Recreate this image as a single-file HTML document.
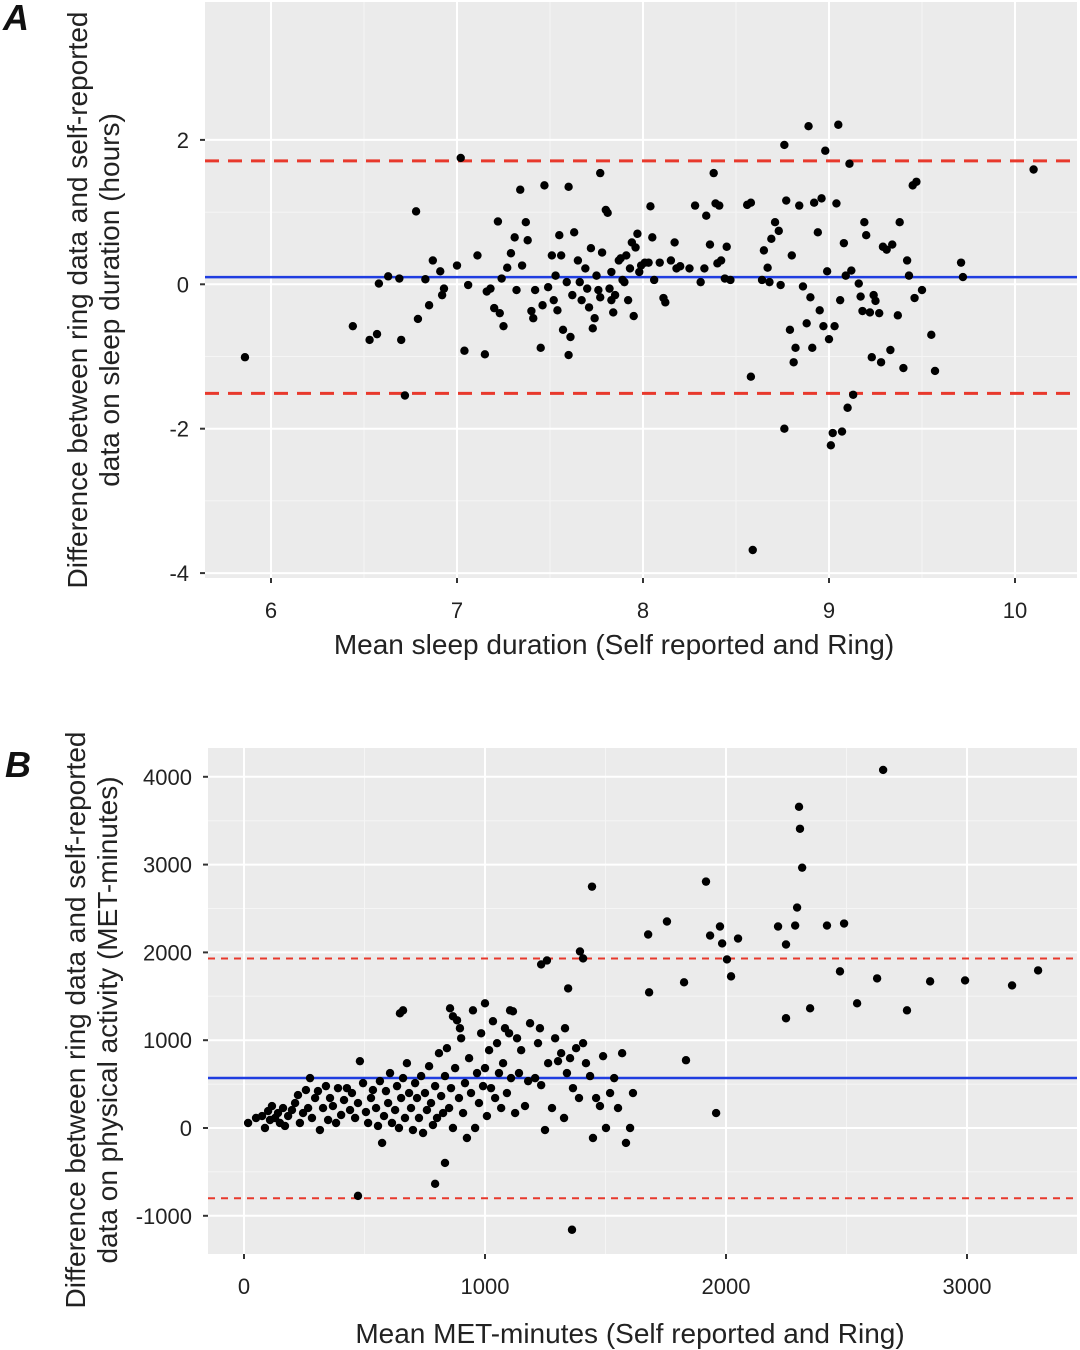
<!DOCTYPE html>
<html><head><meta charset="utf-8"><style>
html,body{margin:0;padding:0;background:#fff;}
svg{display:block;font-family:"Liberation Sans",Arial,sans-serif;}
</style></head><body>
<svg id="chart" width="1080" height="1350" viewBox="0 0 1080 1350"></svg>
<script>
// ---- Panel A data ----
const aX = [5.86,6.44,6.53,6.57,6.58,6.63,6.69,6.70,6.72,6.78,6.79,6.83,6.85,6.87,6.91,6.92,6.93,7.00,7.02,7.04,7.06,7.11,7.15,7.16,7.18,7.22,7.20,7.23,7.24,7.25,7.27,7.29,7.31,7.32,7.34,7.35,7.37,7.38,7.40,7.41,7.42,7.45,7.46,7.47,7.49,7.51,7.52,7.53,7.54,7.55,7.56,7.57,7.59,7.60,7.60,7.61,7.62,7.63,7.65,7.66,7.67,7.69,7.70,7.71,7.72,7.73,7.74,7.75,7.76,7.77,7.77,7.78,7.80,7.81,7.82,7.83,7.83,7.84,7.85,7.87,7.88,7.89,7.90,7.91,7.92,7.93,7.94,7.95,7.96,7.97,7.98,7.99,8.01,8.03,8.04,8.05,8.06,8.09,8.11,8.12,8.15,8.17,8.18,8.20,8.25,8.28,8.31,8.33,8.34,8.36,8.38,8.39,8.40,8.41,8.42,8.44,8.45,8.47,8.56,8.58,8.58,8.59,8.64,8.65,8.67,8.68,8.69,8.71,8.73,8.74,8.76,8.76,8.77,8.79,8.80,8.81,8.82,8.84,8.86,8.88,8.89,8.90,8.91,8.92,8.94,8.95,8.96,8.97,8.98,8.99,9.00,9.01,9.02,9.03,9.04,9.05,9.06,9.07,9.08,9.09,9.10,9.11,9.12,9.13,9.16,9.17,9.18,9.19,9.20,9.22,9.23,9.24,9.25,9.27,9.28,9.29,9.31,9.33,9.34,9.37,9.38,9.40,9.42,9.43,9.45,9.46,9.47,9.50,9.55,9.57,9.71,9.72,10.10];
const aY = [-1.01,-0.58,-0.77,-0.69,0.01,0.11,0.08,-0.77,-1.54,1.01,-0.48,0.07,-0.29,0.33,0.18,-0.15,-0.06,0.26,1.75,-0.92,-0.01,0.40,-0.97,-0.10,-0.06,0.87,-0.33,-0.40,0.08,-0.58,0.23,0.43,0.65,-0.08,1.31,0.26,0.86,0.61,-0.37,-0.47,-0.08,-0.88,-0.29,1.37,-0.04,0.40,-0.22,0.12,-0.36,0.68,0.40,-0.63,0.03,1.35,-0.98,-0.73,-0.15,0.72,0.33,0.03,-0.22,0.22,-0.06,-0.32,0.50,-0.61,-0.47,0.12,-0.08,-0.18,1.54,0.44,1.03,0.99,-0.06,0.17,-0.22,-0.39,-0.15,0.33,0.36,0.06,0.03,0.40,-0.22,0.22,0.58,-0.44,0.51,0.70,0.17,0.26,0.30,0.30,1.08,0.65,0.06,0.30,-0.19,-0.25,0.33,0.58,0.22,0.25,0.22,1.09,0.03,0.22,0.95,0.55,1.54,1.12,0.29,1.09,0.33,0.08,0.52,0.06,1.10,1.13,-1.28,-3.68,0.06,0.47,0.23,0.03,0.63,0.86,0.74,-0.01,1.93,-2.00,1.16,-0.63,0.40,-1.08,-0.88,1.09,-0.03,-0.54,2.19,-0.18,-0.88,1.13,0.72,-0.36,1.19,-0.58,1.85,0.18,-0.76,-2.23,-2.06,-0.58,1.12,2.21,-0.22,-2.04,0.57,0.12,-1.71,1.67,0.19,-1.53,0.01,-0.17,-0.37,0.86,0.68,-0.39,-1.01,-0.15,-0.23,-0.40,-1.08,0.52,0.48,-0.91,0.55,-0.43,0.86,-1.16,0.33,0.12,1.37,-0.19,1.42,-0.08,-0.70,-1.20,0.30,0.10,1.59];
const aMean = 0.10;
const aLimits = [1.71, -1.51];
const aXTicks = [6,7,8,9,10];
const aYTicks = [2,0,-2,-4];

// ---- Panel B data ----
const bX = [17,50,75,87,100,108,116,129,141,149,162,170,183,199,212,224,232,245,257,266,274,282,295,307,315,328,340,349,357,369,382,390,403,415,427,440,448,461,473,481,494,506,515,527,535,548,556,564,573,581,589,598,606,614,627,635,643,652,660,668,676,685,693,701,710,718,726,735,743,751,759,768,776,784,793,801,809,818,826,834,842,851,859,867,876,884,892,901,909,917,925,934,942,950,959,967,975,984,992,1000,1008,1017,1025,1033,1042,1050,1058,1067,1075,1083,1091,1100,1108,1116,1125,1133,1141,1150,1166,1179,1187,1208,1220,1233,1249,1262,1278,1291,1303,1316,1328,1340,1353,1365,1378,1390,1407,1419,1436,1448,1461,1477,1490,1502,1519,1536,1552,1569,1585,1602,1614,473,793,834,1361,647,660,855,867,896,1000,1104,1228,1332,1233,1257,1394,1407,1345,1444,1677,1681,1755,1826,1834,1917,1934,1959,1975,1984,2004,2021,2050,2216,2249,2249,2287,2295,2303,2307,2316,2349,2419,2473,2490,2544,2627,2652,2751,2847,2992,3187,3295];
const bY = [57,114,136,0,193,91,250,114,170,57,227,23,136,204,284,375,57,170,432,227,568,114,341,420,-23,227,477,91,341,250,57,454,148,318,454,204,398,114,284,761,511,182,57,341,432,227,23,534,-170,136,420,284,625,57,204,477,0,341,568,114,738,398,227,-23,511,341,114,591,-57,398,204,704,284,34,477,114,852,364,170,591,909,227,454,0,682,1227,341,1022,170,511,-114,795,398,1340,0,625,284,1079,477,682,136,886,454,1216,341,966,625,227,738,1136,398,1079,568,1329,170,1022,625,886,250,534,1193,568,966,488,-23,738,227,1022,761,852,114,625,795,454,909,341,966,738,591,-114,341,250,818,0,398,568,227,852,-170,0,398,-773,-636,-398,-1159,1306,1340,1363,1272,1136,1420,1340,1136,1136,1863,1908,2011,1931,1590,2749,2204,1545,2352,1659,772,2806,2192,170,2295,2102,1920,1727,2158,2295,1250,2090,2306,2511,3658,3408,2965,1363,2306,1784,2329,1420,1704,4078,1340,1670,1681,1624,1795];
const bMean = 570;
const bLimits = [1930, -800];
const bXTicks = [0,1000,2000,3000];
const bYTicks = [4000,3000,2000,1000,0,-1000];

const NS = 'http://www.w3.org/2000/svg';
const svg = document.getElementById('chart');
function mk(tag, attrs, parent){ const e=document.createElementNS(NS,tag); for(const k in attrs) e.setAttribute(k,attrs[k]); (parent||svg).appendChild(e); return e; }

function panel(cfg){
  const g = mk('g',{});
  
  
  const sx = v => cfg.px0 + (v - cfg.x0) * cfg.kx;
  const sy = v => cfg.py0 - (v - cfg.y0) * cfg.ky;
  const bg = mk('rect',{x:cfg.L,y:cfg.T,width:cfg.R-cfg.L,height:cfg.B-cfg.T,fill:'#ebebeb'},g);
  
  
  for(let i=0;i<cfg.xt.length-1;i++){ const m=(cfg.xt[i]+cfg.xt[i+1])/2; mk('line',{x1:sx(m),x2:sx(m),y1:cfg.T,y2:cfg.B,stroke:'#f5f5f5','stroke-width':1},g); }
  for(let i=0;i<cfg.yt.length-1;i++){ const m=(cfg.yt[i]+cfg.yt[i+1])/2; mk('line',{x1:cfg.L,x2:cfg.R,y1:sy(m),y2:sy(m),stroke:'#f5f5f5','stroke-width':1},g); }
  cfg.xt.forEach(v=>{
    const l=mk('line',{x1:sx(v),x2:sx(v),y1:cfg.T,y2:cfg.B,stroke:'#fff','stroke-width':2},g);
     
    mk('line',{x1:sx(v),x2:sx(v),y1:cfg.B,y2:cfg.B+5,stroke:'#333','stroke-width':2},g);
    const t=mk('text',{x:sx(v),y:cfg.B+40,'text-anchor':'middle','font-size':22,fill:'#222'},g);
    t.textContent=v;  
  });
  cfg.yt.forEach(v=>{
    const l=mk('line',{x1:cfg.L,x2:cfg.R,y1:sy(v),y2:sy(v),stroke:'#fff','stroke-width':2},g);
     
    mk('line',{x1:cfg.L-5,x2:cfg.L,y1:sy(v),y2:sy(v),stroke:'#333','stroke-width':2},g);
    const t=mk('text',{x:cfg.L-16,y:sy(v)+8,'text-anchor':'end','font-size':22,fill:'#222'},g);
    t.textContent=v;  
  });
  cfg.lim.forEach(v=>{
    const l=mk('line',{x1:cfg.L,x2:cfg.R,y1:sy(v),y2:sy(v),stroke:'#e8392c','stroke-width':cfg.dw,'stroke-dasharray':cfg.dash},g);
     
  });
  const ml=mk('line',{x1:cfg.L,x2:cfg.R,y1:sy(cfg.mean),y2:sy(cfg.mean),stroke:'#1f3de0','stroke-width':2.5},g);
   
  cfg.xs.forEach((v,i)=>{
    const c=mk('circle',{cx:sx(v),cy:sy(cfg.ys[i]),r:4.2,fill:'#000'},g);
     
  });
  const xt=mk('text',{x:cfg.xTitleX,y:cfg.xTitleY,'text-anchor':'middle','font-size':28,fill:'#222'},g);
  xt.textContent=cfg.xTitle;  
  const yt=mk('text',{x:0,y:0,'text-anchor':'middle','font-size':28,fill:'#222',transform:`translate(${cfg.yTitleX},${cfg.yTitleC}) rotate(-90)`},g);
   
  const s1=mk('tspan',{x:0,dy:0},yt); s1.textContent=cfg.yTitle1;
  const s2=mk('tspan',{x:0,dy:32},yt); s2.textContent=cfg.yTitle2;
  const lab=mk('text',{x:cfg.labX,y:cfg.labY,'font-size':36,'font-weight':'bold','font-style':'italic',fill:'#111'},g);
  lab.textContent=cfg.label;  
}

panel({name:'panel-a-sleep', L:205,R:1077,T:2,B:578, x0:6,px0:271,kx:186, y0:0,py0:284.3,ky:72.2,
  xt:aXTicks, yt:aYTicks, xs:aX, ys:aY, mean:aMean, lim:aLimits, dw:3, dash:'14 9',
  xTitle:'Mean sleep duration (Self reported and Ring)', xTitleX:614, xTitleY:654,
  yTitle1:'Difference between ring data and self-reported', yTitle2:'data on sleep duration (hours)', yTitleX:87, yTitleC:300,
  label:'A', labX:3, labY:30});
panel({name:'panel-b-activity', L:208,R:1077,T:748,B:1254, x0:0,px0:244,kx:0.241, y0:0,py0:1128,ky:0.0878,
  xt:bXTicks, yt:bYTicks, xs:bX, ys:bY, mean:bMean, lim:bLimits, dw:2, dash:'7 6',
  xTitle:'Mean MET-minutes (Self reported and Ring)', xTitleX:630, xTitleY:1343,
  yTitle1:'Difference between ring data and self-reported', yTitle2:'data on physical activity (MET-minutes)', yTitleX:85, yTitleC:1020,
  label:'B', labX:5, labY:777});
</script>
</body></html>
